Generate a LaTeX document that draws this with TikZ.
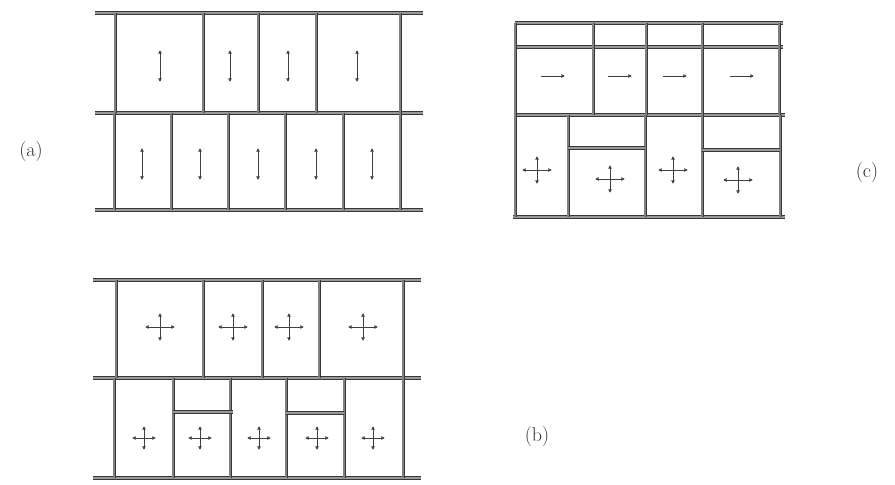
\documentclass[tikz,border=0pt]{standalone}
\usetikzlibrary{arrows.meta}
\begin{document}
\begin{tikzpicture}[x=1pt,y=-1pt,
 rail/.style={draw=black!78, double=black!40, double distance=1.6pt, line width=1pt},
 wall/.style={draw=black!78, double=black!50, double distance=1.1pt, line width=0.95pt},
 arr/.style={draw=black!75, line width=1pt, {Latex[length=3.6pt,width=4pt]}-{Latex[length=3.6pt,width=4pt]}},
 rarr/.style={draw=black!75, line width=1pt, -{Latex[length=3.6pt,width=4pt]}},
 lab/.style={font=\fontsize{20}{22}\selectfont, text=black!80, inner sep=0pt},
 ud/.pic={\draw[arr] (0,-16) -- (0,16);},
 cr/.pic={\draw[arr] (-15,0) -- (15,0); \draw[arr] (0,-14) -- (0,14);},
 crs/.pic={\draw[arr] (-12,0) -- (12,0); \draw[arr] (0,-12) -- (0,12);},
 rt/.pic={\draw[rarr] (-12,0) -- (12,0);}
]
\useasboundingbox[fill=white] (0,0) rectangle (895,485);

% ---------- panel (a) ----------
\foreach \y in {13,113,210} \draw[rail] (95,\y) -- (423,\y);
\foreach \x in {115,203,258,316,400} \draw[wall] (\x,13) -- (\x,113);
\foreach \x in {114,171,228,285,343,400} \draw[wall] (\x,113) -- (\x,210);
\foreach \x in {160,230,288,357} \pic at (\x,66) {ud};
\foreach \x in {142,200,258,316,372} \pic at (\x,164) {ud};
\node[lab] (la) at (31,152) {(a)};

% ---------- panel (b) ----------
\foreach \y in {280,378,478} \draw[rail] (93,\y) -- (421,\y);
\foreach \x in {116,203,262,319,403} \draw[wall] (\x,280) -- (\x,378);
\foreach \x in {114,173,230,286,344,403} \draw[wall] (\x,378) -- (\x,478);
\draw[rail] (173,412) -- (233,412);
\draw[rail] (286,413) -- (344,413);
\foreach \x in {160,233,289,363} \pic at (\x,327) {cr};
\foreach \x in {144,200,259,317,373} \pic at (\x,438) {crs};
\node[lab] (lb) at (537,437) {(b)};

% ---------- panel (c) ----------
\draw[rail] (515,23) -- (783,23);
\draw[rail] (515,47) -- (783,47);
\draw[rail] (515,115) -- (785,115);
\draw[rail] (513,217) -- (785,217);
\foreach \x in {515,593,646,702,779} \draw[wall] (\x,23) -- (\x,115);
\foreach \x in {515,568,645,702,780} \draw[wall] (\x,115) -- (\x,217);
\draw[rail] (568,148) -- (645,148);
\draw[rail] (702,150) -- (780,150);
\foreach \x in {553,620,675,742} \pic at (\x,76) {rt};
\pic at (537,170) {cr};
\pic at (610,179) {cr};
\pic at (673,170) {cr};
\pic at (738,180) {cr};
\node[lab] (lc) at (867,173) {(c)};
\end{tikzpicture}
\end{document}
